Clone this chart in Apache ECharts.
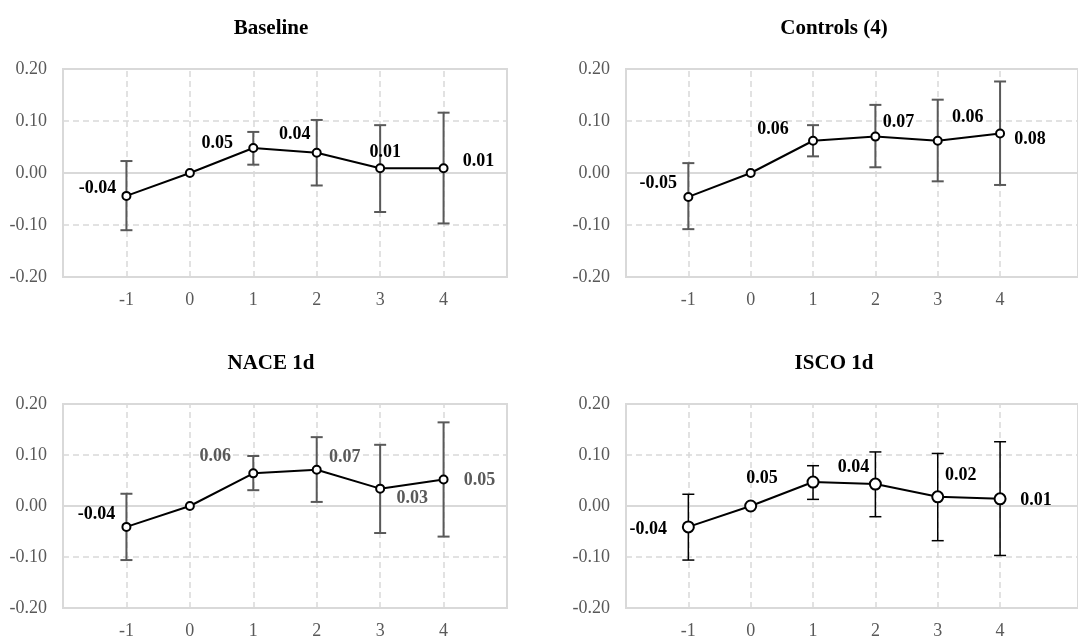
<!DOCTYPE html>
<html>
<head>
<meta charset="utf-8">
<script src="https://cdn.jsdelivr.net/npm/echarts@6/dist/echarts.min.js"></script>
<style>
  html, body { margin: 0; padding: 0; background: #fff; }
  #chart { width: 1078px; height: 640px; }
</style>
</head>
<body>
<div id="chart"></div>
<script>
// event time (x)
const xs = [-1, 0, 1, 2, 3, 4];

// panel titles
const titles = ['Baseline', 'Controls (4)', 'NACE 1d', 'ISCO 1d'];

// point estimates and confidence bounds per panel
const baselineEst  = [-0.044, 0, 0.048, 0.039, 0.009, 0.009];
const baselineLow  = [-0.110, 0, 0.016, -0.024, -0.075, -0.097];
const baselineHigh = [0.023, 0, 0.079, 0.102, 0.092, 0.116];

const controlsEst  = [-0.046, 0, 0.062, 0.070, 0.062, 0.076];
const controlsLow  = [-0.108, 0, 0.032, 0.011, -0.016, -0.023];
const controlsHigh = [0.019, 0, 0.092, 0.131, 0.141, 0.176];

const naceEst  = [-0.041, 0, 0.064, 0.071, 0.034, 0.052];
const naceLow  = [-0.106, 0, 0.031, 0.008, -0.053, -0.060];
const naceHigh = [0.024, 0, 0.098, 0.135, 0.120, 0.164];

const iscoEst  = [-0.041, 0, 0.047, 0.043, 0.018, 0.014];
const iscoLow  = [-0.106, 0, 0.013, -0.021, -0.068, -0.097];
const iscoHigh = [0.023, 0, 0.079, 0.106, 0.103, 0.126];

// y tick values
const yTicks = [-0.2, -0.1, 0, 0.1, 0.2];

const panels = [
  { est: baselineEst, low: baselineLow, high: baselineHigh },
  { est: controlsEst, low: controlsLow, high: controlsHigh },
  { est: naceEst, low: naceLow, high: naceHigh },
  { est: iscoEst, low: iscoLow, high: iscoHigh }
];

// layout / style per panel (not data)
const layout = [
  { grid: { left: 63, top: 69, width: 444, height: 208 }, xMax: 5, titleX: 266, titleY: 14,
    barColor: '#595959', barWidth: 2, symSize: 8, symBorder: 2,
    offsets: [[-29, -8], [0, 0], [-36, -5], [-22, -18], [5, -16], [35, -7]],
    labelColors: ['#000', '#000', '#000', '#000', '#000', '#000'] },
  { grid: { left: 626, top: 69, width: 459, height: 208 }, xMax: 5.25, titleX: 829, titleY: 14,
    barColor: '#595959', barWidth: 2, symSize: 8, symBorder: 2,
    offsets: [[-30, -14], [0, 0], [-40, -11], [23, -14], [30, -23], [30, 6]],
    labelColors: ['#000', '#000', '#000', '#000', '#000', '#000'] },
  { grid: { left: 63, top: 404, width: 444, height: 209 }, xMax: 5, titleX: 266, titleY: 349,
    barColor: '#595959', barWidth: 2, symSize: 8, symBorder: 2,
    offsets: [[-30, -13], [0, 0], [-38, -17], [28, -12], [32, 10], [36, 1]],
    labelColors: ['#000', '#000', '#595959', '#595959', '#595959', '#595959'] },
  { grid: { left: 626, top: 404, width: 459, height: 209 }, xMax: 5.25, titleX: 829, titleY: 349,
    barColor: '#000', barWidth: 1.5, symSize: 11, symBorder: 1.5,
    offsets: [[-40, 2], [0, 0], [-51, -4], [-22, -17], [23, -21], [36, 1]],
    labelColors: ['#000', '#000', '#000', '#000', '#000', '#000'] }
];

const FONT = '"Liberation Serif", "Times New Roman", serif';
const GRID_COLOR = '#d9d9d9';

let chart = echarts.init(document.getElementById('chart'));

let option = {
  backgroundColor: '#fff',
  animation: false,
  title: [],
  grid: [],
  xAxis: [],
  yAxis: [],
  series: []
};

panels.forEach((p, i) => {
  const L = layout[i];
  option.title.push({
    text: titles[i],
    left: L.titleX,
    top: L.titleY - 1,
    textAlign: 'center',
    textStyle: { fontFamily: FONT, fontSize: 21, fontWeight: 'bold', color: '#000' }
  });
  option.grid.push(Object.assign({ show: true, borderColor: GRID_COLOR, borderWidth: 2, backgroundColor: '#fff' }, L.grid));
  option.xAxis.push({
    type: 'value', gridIndex: i, min: -2, max: L.xMax, interval: 1,
    axisLine: { show: false }, axisTick: { show: false }, splitLine: { show: false },
    axisLabel: {
      margin: 14, color: '#595959', fontFamily: FONT, fontSize: 18,
      showMinLabel: false, showMaxLabel: false,
      formatter: v => (xs.indexOf(v) >= 0 ? String(v) : '')
    }
  });
  option.yAxis.push({
    type: 'value', gridIndex: i, min: yTicks[0], max: yTicks[yTicks.length - 1], interval: 0.1,
    axisLine: { show: false }, axisTick: { show: false },
    splitLine: { show: true, lineStyle: { color: GRID_COLOR, type: [6, 4], width: 1.5 } },
    axisLabel: { margin: 16, color: '#595959', fontFamily: FONT, fontSize: 18, formatter: v => v.toFixed(2) }
  });

  // gridlines: dashed verticals at each x, solid zero line
  option.series.push({
    type: 'line', xAxisIndex: i, yAxisIndex: i, data: [], silent: true, z: 1,
    markLine: {
      silent: true, symbol: 'none', animation: false, z: 1,
      label: { show: false },
      data: xs.map(x => ({ xAxis: x, lineStyle: { color: GRID_COLOR, type: [6, 4], width: 1.5 } }))
        .concat([{ yAxis: 0, lineStyle: { color: GRID_COLOR, type: 'solid', width: 2 } }])
    }
  });

  // error bars
  const barData = [];
  xs.forEach((x, k) => { if (p.high[k] !== p.low[k]) barData.push([x, p.low[k], p.high[k]]); });
  option.series.push({
    type: 'custom', xAxisIndex: i, yAxisIndex: i, z: 3, silent: true,
    data: barData,
    renderItem: (params, api) => {
      const lo = api.coord([api.value(0), api.value(1)]);
      const hi = api.coord([api.value(0), api.value(2)]);
      const cap = 6;
      const style = { stroke: L.barColor, lineWidth: L.barWidth };
      return {
        type: 'group',
        children: [
          { type: 'line', shape: { x1: lo[0], y1: lo[1], x2: hi[0], y2: hi[1] }, style: style },
          { type: 'line', shape: { x1: lo[0] - cap, y1: lo[1], x2: lo[0] + cap, y2: lo[1] }, style: style },
          { type: 'line', shape: { x1: hi[0] - cap, y1: hi[1], x2: hi[0] + cap, y2: hi[1] }, style: style }
        ]
      };
    }
  });

  // estimates
  option.series.push({
    type: 'line', xAxisIndex: i, yAxisIndex: i, z: 4,
    symbol: 'emptyCircle', symbolSize: L.symSize,
    lineStyle: { color: '#000', width: 2 },
    itemStyle: { color: '#000', borderColor: '#000', borderWidth: L.symBorder },
    label: {
      show: true, position: 'inside',
      fontFamily: FONT, fontSize: 18, fontWeight: 'bold',
      formatter: d => (d.value[1] === 0 ? '' : d.value[1].toFixed(2))
    },
    data: xs.map((x, k) => ({
      value: [x, p.est[k]],
      label: { offset: L.offsets[k], color: L.labelColors[k] }
    }))
  });
});

chart.setOption(option);
</script>
</body>
</html>
